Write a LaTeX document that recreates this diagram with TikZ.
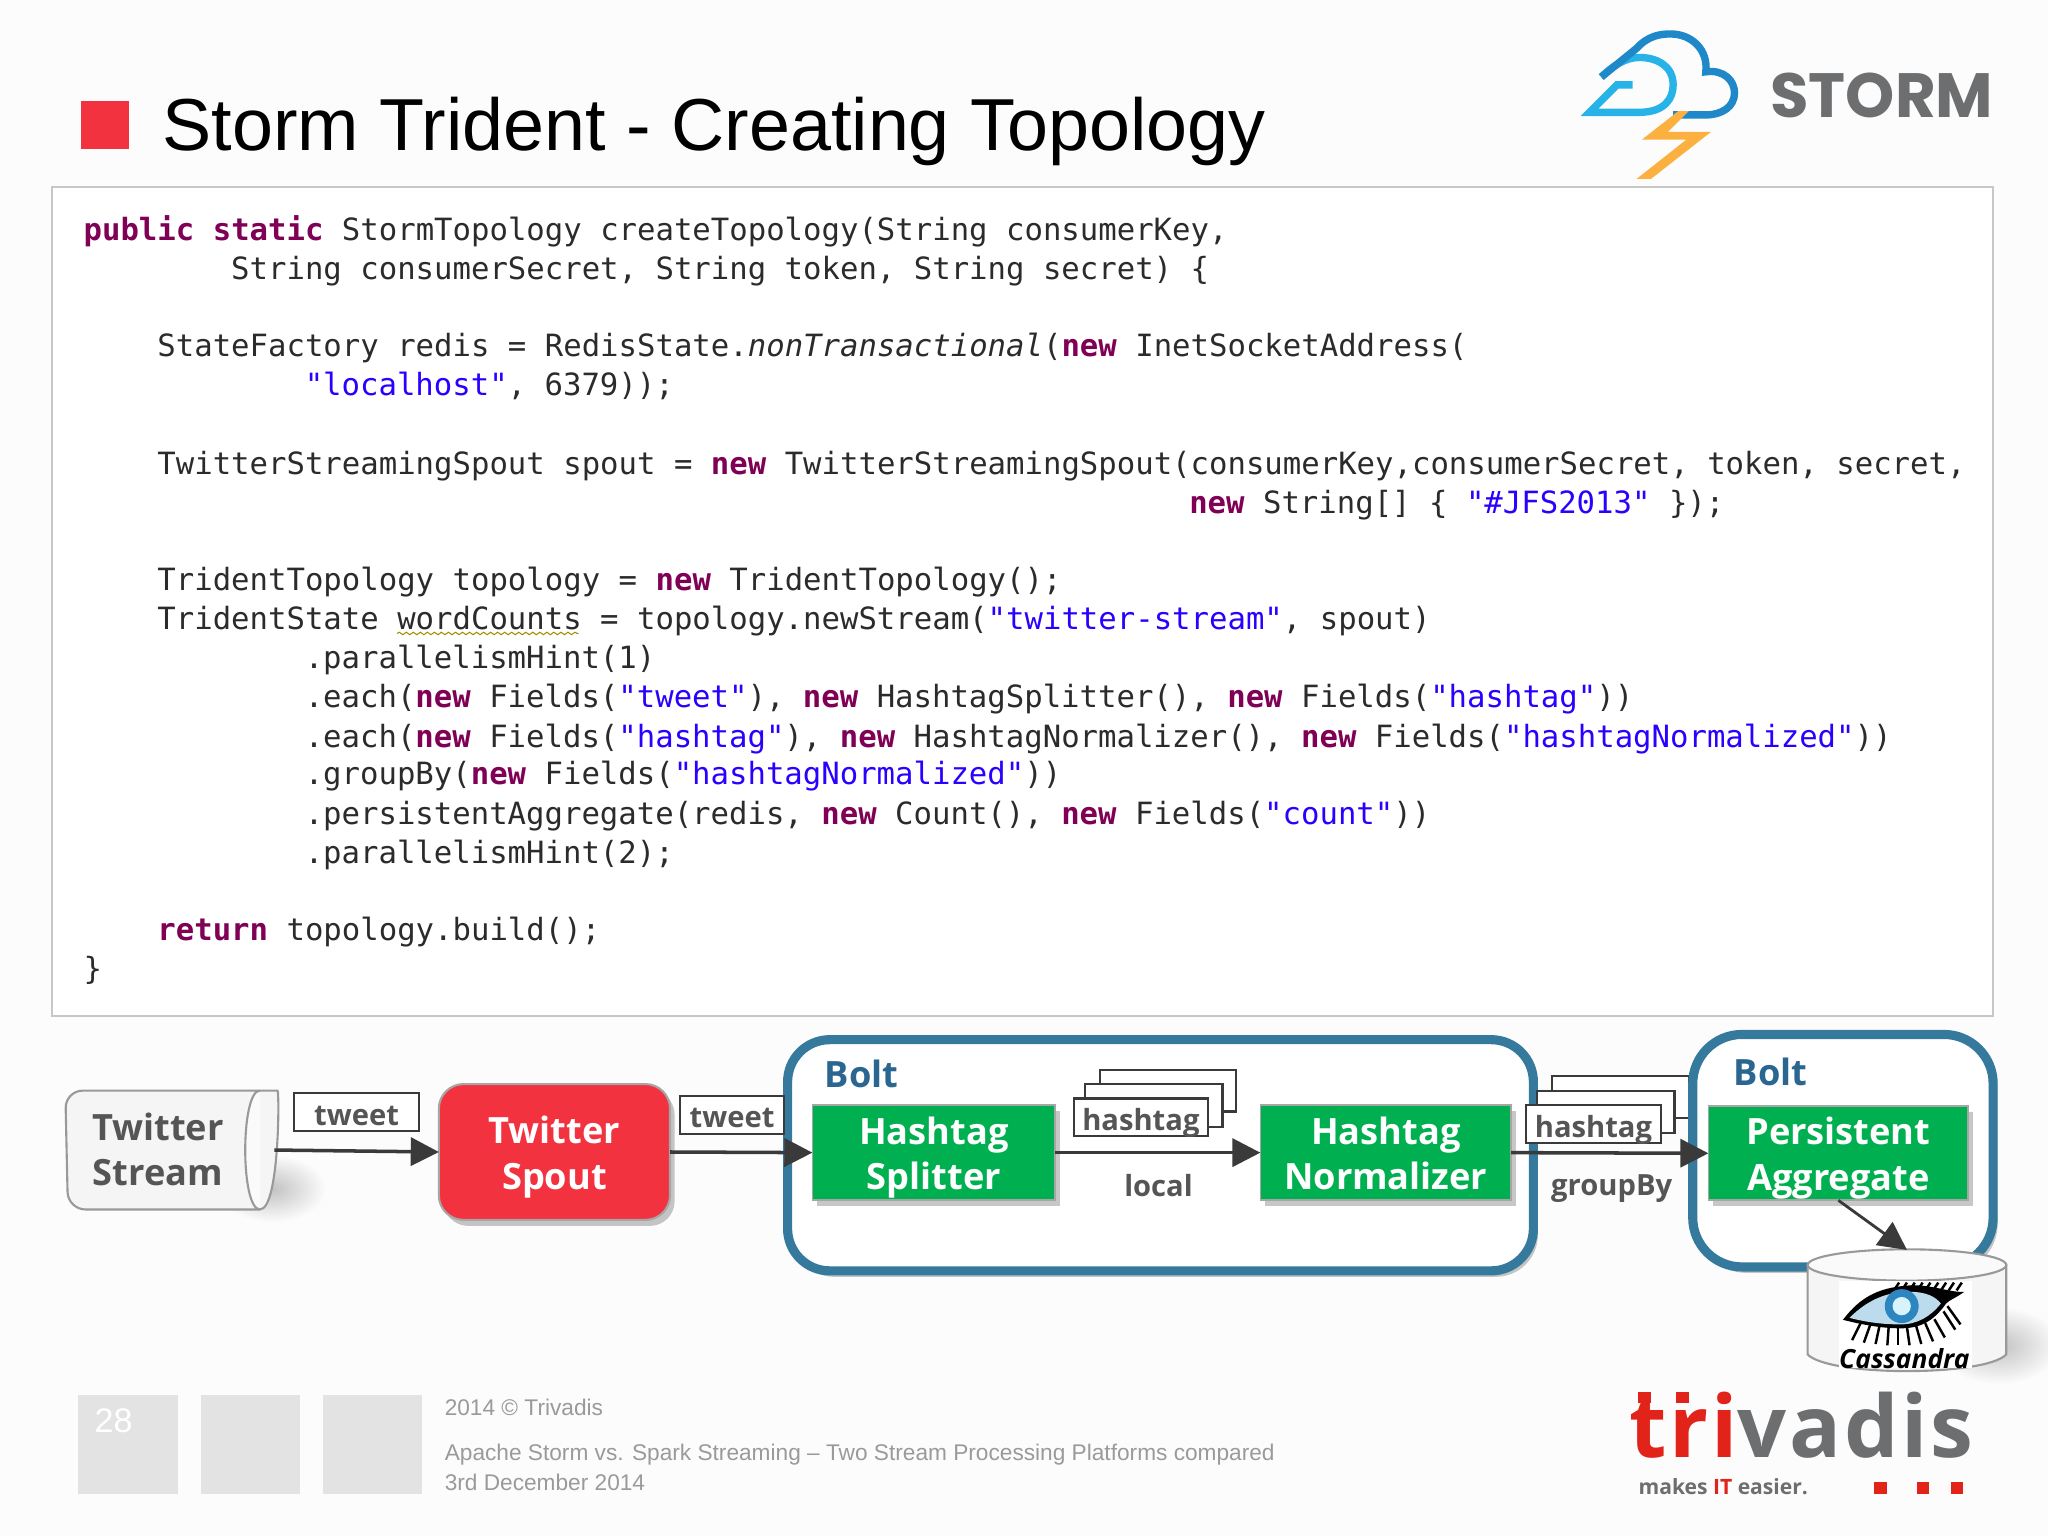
\documentclass[tikz,border=0pt]{standalone}
\usepackage{fontspec}
\usepackage{tikz}
\usetikzlibrary{arrows.meta,shadows,decorations.pathmorphing}

\setmainfont{Liberation Sans}
\setmonofont{DejaVu Sans Mono}
\newfontfamily\diagfont{Open Sans}
\newfontfamily\stormfont{Poppins}

\definecolor{kwcol}{HTML}{7F0055}
\definecolor{litcol}{HTML}{2A00FF}
\definecolor{codecol}{HTML}{2B2B2B}
\definecolor{boltcol}{HTML}{35799D}
\definecolor{bolttext}{HTML}{2A6690}
\definecolor{greencol}{HTML}{00B050}
\definecolor{redcol}{HTML}{F2323F}
\definecolor{darkcol}{HTML}{3A3A3A}
\definecolor{textgray}{HTML}{555555}
\definecolor{footgray}{HTML}{9A9A9A}
\definecolor{logogray}{HTML}{6D6E70}
\definecolor{logored}{HTML}{E2231A}
\definecolor{clouddark}{HTML}{1F88C9}
\definecolor{cloudlight}{HTML}{27B3E8}
\definecolor{boltyellow}{HTML}{FBB040}
\definecolor{eyewhite}{HTML}{BCDCEE}
\definecolor{eyeiris}{HTML}{2E86C0}

\newcommand{\kw}[1]{\textcolor{kwcol}{\bfseries #1}}
\newcommand{\lit}[1]{\textcolor{litcol}{#1}}
\newcommand{\lowered}[1]{\raisebox{-1.5pt}[\height][\depth]{\begin{tabular}{@{}c@{}}#1\end{tabular}}}
\def\unitlen{0.0130612cm}

\tikzset{
	code/.style={anchor=base west,inner sep=0pt,text=codecol,font=\ttfamily\fontsize{8.72}{10}\selectfont},
	sized/.style 2 args={minimum width=#1*\unitlen,minimum height=#2*\unitlen,inner sep=0pt,outer sep=0pt},
	softshadow/.style={drop shadow={shadow xshift=1.3pt,shadow yshift=-1.7pt,opacity=.22,fill=black}},
	diag/.style={font=\diagfont\bfseries\fontsize{10.3}{12.9}\selectfont,align=center},
	stepbox/.style={diag,draw=gray!70,line width=.5pt,fill=greencol,text=white,softshadow},
	bolt/.style={draw=boltcol,line width=2.6pt,fill=white,rounded corners=12pt,softshadow},
	bolttitle/.style={diag,text=bolttext},
	tuplebox/.style={draw=darkcol,line width=.6pt,fill=white,text=textgray,text height=7.5pt,text depth=0pt,font=\diagfont\bfseries\fontsize{8.3}{10}\selectfont},
	tuplenote/.style={text=textgray,font=\diagfont\bfseries\fontsize{8.3}{10}\selectfont},
	flow/.style={draw=darkcol,line width=1pt,-{Triangle[length=8pt,width=8pt]}},
	drum/.style={draw=black!40,line width=.6pt,fill=black!4},
	blob/.style={inner color=black!24,outer color=white!99!black},
	footer/.style={anchor=base west,inner sep=0pt,text=footgray,font=\fontsize{6.45}{8}\selectfont},
	footbox/.style={fill=black!11,draw=none},
}

\begin{document}
\begin{tikzpicture}[x=\unitlen,y=-\unitlen]
	\useasboundingbox (0,0) rectangle (1568,1176);
	\fill[white!99!black] (0,0) rectangle (1568,1176);

	% title
	\fill[redcol] (62,77) rectangle (99,114);
	\node[anchor=base west,inner sep=0pt,font=\fontsize{20.96}{26}\selectfont] (title) at (124,115) {Storm Trident - Creating Topology};

	% storm logo
	\draw[color=cloudlight,line width=2.1pt] (1250,65) -- (1238,65) -- (1217,86) -- (1255,86) .. controls (1275,86) and (1281,75) .. (1281,65) .. controls (1281,50) and (1268,44) .. (1255,44) .. controls (1245,44) and (1235,50) .. (1226,59);
	\draw[color=clouddark,line width=2.1pt] (1226,59) -- (1253,37) .. controls (1262,27) and (1272,26) .. (1279,26) .. controls (1295,26) and (1308,38) .. (1306,55) .. controls (1320,53) and (1328,62) .. (1328,71) .. controls (1328,82) and (1318,88) .. (1306,88) -- (1281,88);
	\fill[boltyellow] (1285,85) -- (1293,85) -- (1277,101) -- (1310,101) -- (1264,137) -- (1253,137) -- (1291,107) -- (1257,107) -- cycle;
	\node[anchor=west,inner sep=0pt,text=logogray,font=\stormfont\bfseries\fontsize{17.8}{20}\selectfont] (storm) at (1355,73) {STORM};

	% code
	\draw[draw=black!22,line width=.6pt,fill=white] (40,143) rectangle (1526,778);
	\node[code] (c1) at (63.5,184) {\kw{public} \kw{static} StormTopology createTopology(String consumerKey,};
	\node[code] (c2) at (176.5,214) {String consumerSecret, String token, String secret) \{};
	\node[code] (c3) at (120,273) {StateFactory redis = RedisState.\textit{nonTransactional}(\kw{new} InetSocketAddress(};
	\node[code] (c4) at (232.8,303) {\lit{"localhost"}, 6379));};
	\node[code] (c5) at (120,363) {TwitterStreamingSpout spout = \kw{new} TwitterStreamingSpout(consumerKey,consumerSecret, token, secret,};
	\node[code] (c6) at (910,393) {\kw{new} String[] \{ \lit{"\#JFS2013"} \});};
	\node[code] (c7) at (120,452) {TridentTopology topology = \kw{new} TridentTopology();};
	\node[code] (c8) at (120,482) {TridentState wordCounts = topology.newStream(\lit{"twitter-stream"}, spout)};
	\node[code] (c9) at (232.8,512) {.parallelismHint(1)};
	\node[code] (c10) at (232.8,542) {.each(\kw{new} Fields(\lit{"tweet"}), \kw{new} HashtagSplitter(), \kw{new} Fields(\lit{"hashtag"}))};
	\node[code] (c11) at (232.8,572) {.each(\kw{new} Fields(\lit{"hashtag"}), \kw{new} HashtagNormalizer(), \kw{new} Fields(\lit{"hashtagNormalized"}))};
	\node[code] (c12) at (232.8,601) {.groupBy(\kw{new} Fields(\lit{"hashtagNormalized"}))};
	\node[code] (c13) at (232.8,631) {.persistentAggregate(redis, \kw{new} Count(), \kw{new} Fields(\lit{"count"}))};
	\node[code] (c14) at (232.8,661) {.parallelismHint(2);};
	\node[code] (c15) at (120,720) {\kw{return} topology.build();};
	\node[code] (c16) at (63.5,750) {\}};
	\draw[color=olive!80!orange,line width=.3pt,decorate,decoration={snake,amplitude=.35pt,segment length=2pt}] (304,485) -- (443,485);

	% stream and spout
	\shade[blob] (208,910) ellipse [x radius=42,y radius=26];
	\draw[drum,rounded corners=5pt] (50,835) -- (199,835) [sharp corners] .. controls (214,835) and (214,926) .. (199,926) [rounded corners=5pt] -- (52,926) -- cycle;
	\draw[drum,fill=black!2] (199,835) .. controls (184,835) and (184,926) .. (199,926);
	\node[sized={160}{91}] (stream) at (130,880.5) {};
	\node[diag,text=textgray] (streamlabel) at (121,880) {Twitter\\Stream};
	\node[tuplebox,sized={96}{29}] (tweeta) at (273,851.5) {tweet};
	\node[draw=black!35,line width=.6pt,fill=redcol,rounded corners=7pt,text=white,diag,softshadow,sized={177}{104}] (spout) at (424.5,882) {\lowered{Twitter\\Spout}};

	% first bolt
	\node[bolt,sized={571}{177}] (boltone) at (888.5,884.5) {};
	\node[bolttitle,anchor=west,inner sep=0pt] (boltonetitle) at (631,822) {Bolt};
	\node[tuplebox,sized={80}{29}] (tweetb) at (560.5,853.5) {tweet};
	\node[stepbox,sized={186}{73}] (splitter) at (715,882.5) {\lowered{Hashtag\\Splitter}};
	\node[stepbox,sized={192}{73}] (normalizer) at (1061,882.5) {\lowered{Hashtag\\Normalizer}};

	% hashtag copies
	\node[tuplebox,sized={104}{32}] (localback) at (894,835) {};
	\node[tuplebox,sized={105}{33}] (localmid) at (883.5,846.5) {};
	\node[tuplebox,sized={103}{29}] (localfront) at (873.5,855.5) {hashtag};
	\node[tuplenote] (locallabel) at (887,908) {local};
	\node[tuplebox,sized={105}{32}] (groupback) at (1240.5,840) {};
	\node[tuplebox,sized={105}{32}] (groupmid) at (1229.5,851.5) {};

	% second bolt
	\node[bolt,sized={230}{178},rounded corners=14pt] (bolttwo) at (1411,881) {};
	\node[bolttitle,anchor=west,inner sep=0pt] (bolttwotitle) at (1327,821) {Bolt};
	\node[tuplebox,sized={104}{29}] (groupfront) at (1220,860.5) {hashtag};
	\node[tuplenote] (grouplabel) at (1234,910) {groupBy};
	\node[stepbox,sized={199}{72}] (aggregate) at (1407.5,883) {\lowered{Persistent\\Aggregate}};

	% cassandra
	\shade[blob] (1530,1030) ellipse [x radius=48,y radius=30];
	\draw[drum] (1384,968.5) -- (1384,1037) .. controls (1400,1054) and (1520,1054) .. (1536,1037) -- (1536,968.5) -- cycle;
	\draw[drum,fill=black!2] (1460,968.5) ellipse [x radius=76,y radius=12];
	\node[sized={152}{92}] (cassandra) at (1460,1003) {};
	\fill[white] (1408,981) rectangle (1509.5,1047);
	\foreach \x/\y/\dx in {1425/1012/-7,1432/1014/-5,1439/1015/-3,1446/1016/-1,1453/1016/0,1460/1016/2,1467/1015/4,1474/1013/6,1481/1010/8,1488/1004/9,1491/1000/10}
		\draw[black,line width=.7pt] (\x,\y) -- ++(\dx,14);
	\foreach \x in {1450,1456,...,1498}
		\draw[black,line width=.7pt] (\x,988) -- ++(4,-6);
	\fill[black] (1411,1010.5) .. controls (1425,992) and (1440,985) .. (1465,984) .. controls (1480,984) and (1495,990) .. (1504,989) .. controls (1497,994) and (1493,995) .. (1490,998) .. controls (1480,1012) and (1470,1017) .. (1455,1017) .. controls (1440,1017) and (1425,1014) .. (1411,1010.5) -- cycle;
	\fill[eyewhite] (1416,1009) .. controls (1430,995) and (1445,989) .. (1462,989) .. controls (1475,989) and (1482,993) .. (1486,998) .. controls (1478,1008) and (1468,1014) .. (1455,1014) .. controls (1440,1014) and (1428,1012) .. (1416,1009);
	\fill[eyeiris] (1456,1000) circle (13);
	\fill[white!85!cyan] (1456,1000) circle (7);
	\node[inner sep=0pt,font=\diagfont\bfseries\itshape\fontsize{7.5}{9}\selectfont,text=black] (cassandralabel) at (1458,1040) {Cassandra};

	% connectors
	\draw[flow] (stream.east) -- (spout.west);
	\draw[flow] (spout.east) -- (splitter.west);
	\draw[flow] (splitter.east) -- (normalizer.west);
	\draw[flow] (normalizer.east) -- (aggregate.west);
	\draw[flow,line width=.8pt] (aggregate.south) -- (cassandra.north);

	% footer
	\fill[footbox] (60,1068) rectangle (136,1144);
	\fill[footbox] (154,1068) rectangle (230,1144);
	\fill[footbox] (247,1068) rectangle (323,1144);
	\node[anchor=base west,inner sep=0pt,text=white,font=\fontsize{9.7}{11}\selectfont] (page) at (72,1097) {28};
	\node[footer] (foota) at (340,1084) {2014 © Trivadis};
	\node[footer] (footb) at (340,1118) {Apache Storm vs. Spark Streaming – Two Stream Processing Platforms compared};
	\node[footer] (footc) at (340,1141) {3rd December 2014};

	% trivadis logo
	\node[anchor=base west,inner sep=0pt,font=\diagfont\bfseries\fontsize{24.5}{30}\addfontfeature{LetterSpace=3.2}\selectfont,text=logogray] (trivadis) at (1247,1116) {\textcolor{logored}{tri}vadis};
	\fill[logored] (1254,1066) rectangle (1264,1074);
	\fill[logored] (1283,1066) rectangle (1293,1074);
	\node[anchor=base west,inner sep=0pt,font=\diagfont\bfseries\fontsize{6.0}{8}\selectfont,text=logogray] (makesit) at (1254,1144) {makes \textcolor{logored}{IT} easier.};
	\fill[logored] (1435,1135) rectangle (1445,1144);
	\fill[logored] (1468,1135) rectangle (1477,1144);
	\fill[logored] (1494,1135) rectangle (1503,1144);
\end{tikzpicture}
\end{document}
